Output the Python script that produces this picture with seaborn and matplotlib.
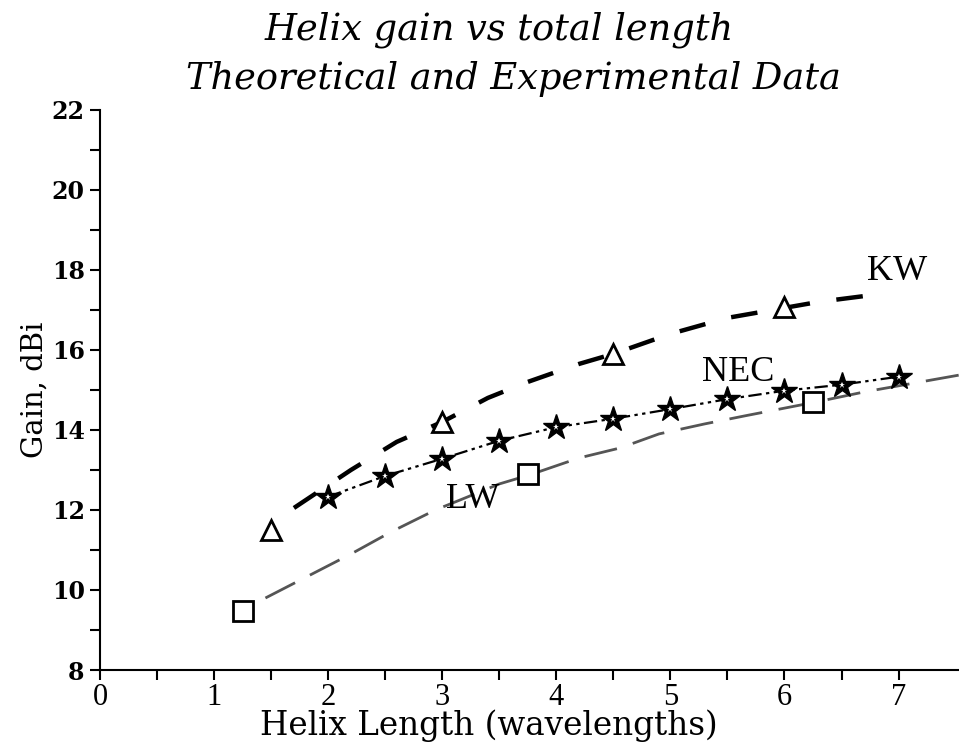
import numpy as np
import pandas as pd
import matplotlib
matplotlib.use("Agg")
import matplotlib.pyplot as plt
import seaborn as sns

# KW theoretical curve
kw_x = [1.7, 2.2, 2.6, 3.0, 3.4, 3.75, 4.2, 4.5, 5.0, 5.5, 6.0, 6.3, 6.85]
kw_y = [12.05, 13.0, 13.7, 14.2, 14.8, 15.2, 15.65, 15.9, 16.4, 16.8, 17.05, 17.2, 17.4]
# LW theoretical curve
lw_x = [1.45, 2.2, 2.55, 2.94, 3.2, 3.5, 3.77, 4.2, 4.56, 4.9, 5.3, 5.65, 6.28, 6.7, 7.55]
lw_y = [9.8, 10.9, 11.45, 12.0, 12.3, 12.65, 12.88, 13.3, 13.55, 13.9, 14.15, 14.35, 14.7, 14.95, 15.38]
# NEC computed points (stars)
nec_x = [2.0, 2.5, 3.0, 3.5, 4.0, 4.5, 5.0, 5.5, 6.0, 6.5, 7.0]
nec_y = [12.33, 12.85, 13.28, 13.73, 14.07, 14.28, 14.52, 14.77, 14.98, 15.13, 15.33]
# Experimental points
tri_x = [1.5, 3.0, 4.5, 6.0]
tri_y = [11.5, 14.2, 15.9, 17.07]
sq_x = [1.25, 3.75, 6.25]
sq_y = [9.48, 12.9, 14.7]

labels = {"KW": (6.99, 17.95), "NEC": (5.59, 15.43), "LW": (3.27, 12.25)}

sns.set_theme(style="white")
plt.rcParams['font.family'] = ['DejaVu Serif']
plt.rcParams['text.color'] = 'black'
plt.rcParams['axes.labelcolor'] = 'black'
plt.rcParams['xtick.color'] = 'black'
plt.rcParams['ytick.color'] = 'black'

fig = plt.figure(figsize=(9.59, 7.52), dpi=100)
ax = fig.add_axes([0.1043, 0.109, 0.8957, 0.745])

kw = pd.DataFrame({"x": kw_x, "y": kw_y})
lw = pd.DataFrame({"x": lw_x, "y": lw_y})
nec = pd.DataFrame({"x": nec_x, "y": nec_y})
tri = pd.DataFrame({"x": tri_x, "y": tri_y})
sq = pd.DataFrame({"x": sq_x, "y": sq_y})

sns.lineplot(data=kw, x="x", y="y", ax=ax, color="black", linewidth=3.2, sort=False)
ax.lines[-1].set_dashes((6, 6))
sns.lineplot(data=lw, x="x", y="y", ax=ax, color="#555555", linewidth=2.0, sort=False)
ax.lines[-1].set_dashes((12, 6))
sns.lineplot(data=nec, x="x", y="y", ax=ax, color="black", linewidth=1.6, sort=False)
ax.lines[-1].set_dashes((6, 2, 1.5, 2, 1.5, 2))

ax.plot(nec["x"], nec["y"], linestyle="none", marker="*", markersize=19,
        markerfacecolor="black", markeredgecolor="black", markeredgewidth=1.0)
ax.plot(nec["x"], nec["y"], linestyle="none", marker="*", markersize=5,
        markerfacecolor="white", markeredgecolor="white", markeredgewidth=0)
ax.plot(tri["x"], tri["y"], linestyle="none", marker="^", markersize=15,
        markerfacecolor="white", markeredgecolor="black", markeredgewidth=2.0)
ax.plot(sq["x"], sq["y"], linestyle="none", marker="s", markersize=15,
        markerfacecolor="white", markeredgecolor="black", markeredgewidth=2.0)

for name, (lx, ly) in labels.items():
    ax.text(lx, ly, name, ha="center", va="center", fontsize=26,
            family="Liberation Serif", color="black")

ax.set_xlim(0, 7.53)
ax.set_ylim(8, 22)
ax.set_xticks(np.arange(0, 8, 1))
ax.set_xticks(np.arange(0.5, 7.5, 1), minor=True)
ax.set_yticks(np.arange(8, 23, 2))
ax.set_yticks(np.arange(9, 22, 2), minor=True)
ax.set_xticklabels([str(i) for i in range(8)], family="Liberation Serif", fontsize=22)
ax.set_yticklabels([str(i) for i in range(8, 23, 2)], fontweight="bold", fontsize=17)
ax.tick_params(axis="both", which="both", direction="out", length=7, width=1.5,
               color="black", bottom=True, left=True)
ax.tick_params(axis="y", pad=4)
ax.tick_params(axis="x", pad=2)

for s in ["top", "right"]:
    ax.spines[s].set_visible(False)
for s in ["left", "bottom"]:
    ax.spines[s].set_color("black")
    ax.spines[s].set_linewidth(1.5)

ax.set_xlabel("Helix Length (wavelengths)", fontsize=23.5, labelpad=0)
ax.xaxis.set_label_coords(0.453, -0.07)
ax.set_ylabel("Gain, dBi", fontsize=21, labelpad=2)
fig.text(0.52, 0.96, "Helix gain vs total length", ha="center", va="center",
         fontsize=26.5, style="italic")
fig.text(0.535, 0.895, "Theoretical and Experimental Data", ha="center", va="center",
         fontsize=26.5, style="italic")

fig.savefig("out.png", dpi=100)
